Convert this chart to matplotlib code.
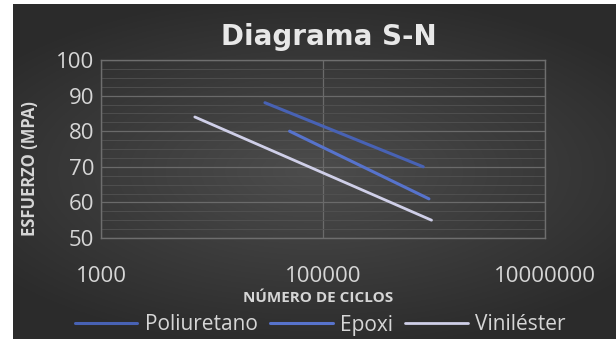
import matplotlib.pyplot as plt
import numpy as np
from matplotlib.ticker import FixedLocator, MultipleLocator, NullFormatter

# S-N curves (cycles, stress in MPa)
series_names = ["Poliuretano", "Epoxi", "Viniléster"]
poliuretano_n = [30000, 800000]
poliuretano_s = [88, 70]
epoxi_n = [50000, 900000]
epoxi_s = [80, 61]
vinilester_n = [7000, 950000]
vinilester_s = [84, 55]

x_ticks = [1000, 100000, 10000000]
x_tick_labels = ["1000", "100000", "10000000"]
y_ticks = [50, 60, 70, 80, 90, 100]

line_colors = ["#4862b4", "#5773cc", "#cfcfe8"]
text_color = "#d6d6d6"
grid_color = "#6a6a6a"

plt.rcParams["font.family"] = ["Open Sans", "DejaVu Sans"]

fig = plt.figure(figsize=(6.16, 3.39), dpi=100)
fig.patch.set_facecolor("white")

# dark radial background of the chart area
bg = fig.add_axes([13 / 616, 0, 1 - 13 / 616, 1 - 4 / 339], zorder=-10)
yy, xx = np.mgrid[-1:1:200j, -1:1:360j]
r = np.sqrt((xx * 0.9) ** 2 + (yy * 1.1) ** 2)
shade = np.clip(0.30 - 0.11 * r, 0.17, 0.30)
bg.imshow(np.dstack([shade] * 3), aspect="auto", extent=[0, 1, 0, 1])
bg.axis("off")

ax = fig.add_axes([101 / 616, 1 - 238 / 339, 444 / 616, 178 / 339])
ax.patch.set_alpha(0)

ax.plot(poliuretano_n, poliuretano_s, color=line_colors[0], lw=2.2,
        solid_capstyle="round", label=series_names[0])
ax.plot(epoxi_n, epoxi_s, color=line_colors[1], lw=2.2,
        solid_capstyle="round", label=series_names[1])
ax.plot(vinilester_n, vinilester_s, color=line_colors[2], lw=2.0,
        solid_capstyle="round", label=series_names[2])

ax.set_xscale("log")
ax.set_xlim(1000, 10000000)
ax.set_ylim(50, 100)
ax.xaxis.set_major_locator(FixedLocator(x_ticks))
ax.xaxis.set_minor_locator(FixedLocator([]))
ax.xaxis.set_minor_formatter(NullFormatter())
ax.set_xticklabels(x_tick_labels)
ax.set_yticks(y_ticks)
ax.yaxis.set_minor_locator(MultipleLocator(2.5))

ax.grid(True, which="major", color=grid_color, lw=0.9)
ax.grid(True, which="minor", axis="y", color="#525252", lw=0.6)
for side in ["left", "right", "top", "bottom"]:
    ax.spines[side].set_color("#6e6e6e")
    ax.spines[side].set_linewidth(1.0)

ax.tick_params(axis="both", which="both", length=0, colors=text_color)
ax.tick_params(axis="y", labelsize=16, pad=5)
ax.tick_params(axis="x", labelsize=16, pad=20)

ax.set_xlabel("NÚMERO DE CICLOS", fontsize=11, fontweight="bold",
              color=text_color)
ax.xaxis.set_label_coords(0.49, -0.3)
ax.set_ylabel("ESFUERZO (MPA)", fontsize=12, fontweight="bold",
              color=text_color)
ax.yaxis.set_label_coords(-0.14, 0.39)

fig.text(0.533, 1 - 37 / 339, "Diagrama S-N", ha="center", va="center",
         fontsize=20, fontweight="bold", color="#e8e8e8",
         family="DejaVu Sans")

fig.legend(loc="center", bbox_to_anchor=(0.52, 1 - 325 / 339), ncol=3,
           frameon=False, fontsize=15, labelcolor=text_color,
           handlelength=3.0, columnspacing=0.6, handletextpad=0.35)

fig.savefig("out.png", dpi=100)
